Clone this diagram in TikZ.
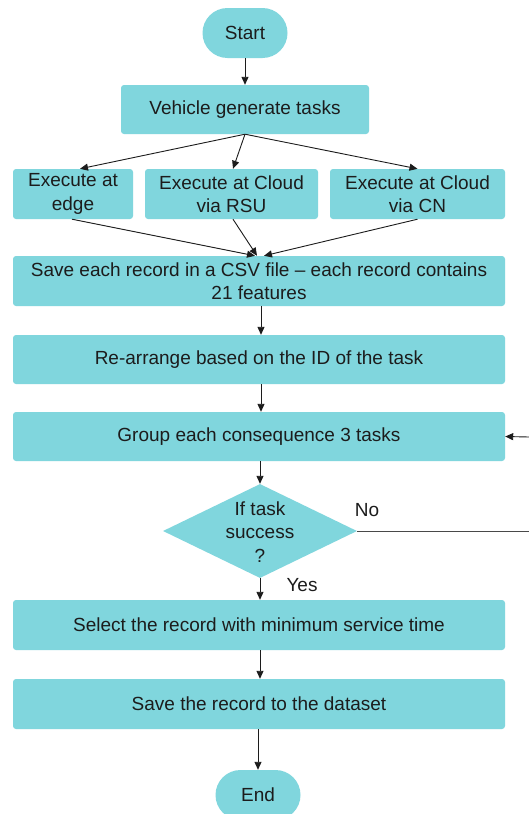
\documentclass[tikz,border=0pt]{standalone}
\usepackage{fontspec}
\setmainfont{Liberation Sans}
\usetikzlibrary{arrows.meta,shapes.geometric}
\definecolor{boxfill}{RGB}{128,214,221}
\definecolor{ink}{RGB}{28,28,28}
\tikzset{
  every node/.style={font=\fontsize{19}{23.5}\selectfont, text=ink},
  procbox/.style={draw=none, fill=boxfill, rounded corners=3pt, inner sep=0pt, align=center},
  termbox/.style={draw=none, fill=boxfill, rounded corners=25pt, inner sep=0pt,
    minimum width=85pt, minimum height=50pt},
  decision/.style={draw=none, fill=boxfill, diamond, inner sep=0pt,
    minimum width=194pt, minimum height=94pt},
  flow/.style={draw=ink, line width=0.9pt, -{Triangle[length=8pt,width=7pt]}},
  plainline/.style={draw=ink!80, line width=0.9pt}
}
\begin{document}
\begin{tikzpicture}[x=1pt,y=-1pt]
  \clip (0,0) rectangle (529,814);
  \fill[white] (0,0) rectangle (529,814);

  % terminals and process steps
  \node[termbox] (start) at (245,33) {Start};
  \node[procbox, minimum width=248pt, minimum height=49pt] (veh) at (245,109.5) {Vehicle generate tasks};
  \node[procbox, minimum width=120pt, minimum height=50pt] (edge) at (73,194) {Execute at\\edge};
  \node[procbox, minimum width=173pt, minimum height=50pt] (rsu) at (231.5,194) {Execute at Cloud\\via RSU};
  \node[procbox, minimum width=175pt, minimum height=50pt] (cn) at (417.5,194) {Execute at Cloud\\via CN};
  \node[procbox, minimum width=492pt, minimum height=50pt] (csv) at (259,281) {Save each record in a CSV file -- each record contains\\21 features};
  \node[procbox, minimum width=492pt, minimum height=49pt] (arr) at (259,359.5) {Re-arrange based on the ID of the task};
  \node[procbox, minimum width=492pt, minimum height=49pt] (grp) at (259,436.5) {Group each consequence 3 tasks};
  \node[decision] (dec) at (260,531) {};
  \node[align=center, inner sep=0pt] (dectext) at (260,532) {If task\\success\\?};
  \node[procbox, minimum width=492pt, minimum height=50pt] (sel) at (259,625) {Select the record with minimum service time};
  \node[procbox, minimum width=492pt, minimum height=50pt] (ds) at (259,704) {Save the record to the dataset};
  \node[termbox] (stop) at (258,795) {End};

  % branch labels
  \node (nolab) at (367,510) {No};
  \node (yeslab) at (302,585) {Yes};

  % loop ends leaving the frame on the right
  \coordinate (loopout) at (529,531);
  \coordinate (loopin) at (529,437);

  % connectors
  \draw[flow] (start.south) -- (veh.north);
  \draw[flow] (veh.south) -- ([xshift=7pt]edge.north);
  \draw[flow] (veh.south) -- ([xshift=1.5pt]rsu.north);
  \draw[flow] (veh.south) -- (cn.north);
  \draw[flow] ([xshift=-1pt]edge.south) -- ([xshift=-4pt]csv.north);
  \draw[flow] ([xshift=1.5pt]rsu.south) -- ([xshift=-2pt]csv.north);
  \draw[flow] (cn.south) -- ([xshift=5pt]csv.north);
  \draw[flow] ([xshift=2pt]csv.south) -- ([xshift=2pt]arr.north);
  \draw[flow] ([xshift=2pt]arr.south) -- ([xshift=2pt]grp.north);
  \draw[flow] ([xshift=1pt]grp.south) -- (dec.north);
  \draw[flow] (dec.south) -- ([xshift=1pt]sel.north);
  \draw[flow] ([xshift=1pt]sel.south) -- ([xshift=1pt]ds.north);
  \draw[flow] ([xshift=-1pt]ds.south) -- (stop.north);
  \draw[plainline] (dec.east) -- (loopout);
  \draw[flow] (loopin) -- (grp.east);
\end{tikzpicture}
\end{document}
